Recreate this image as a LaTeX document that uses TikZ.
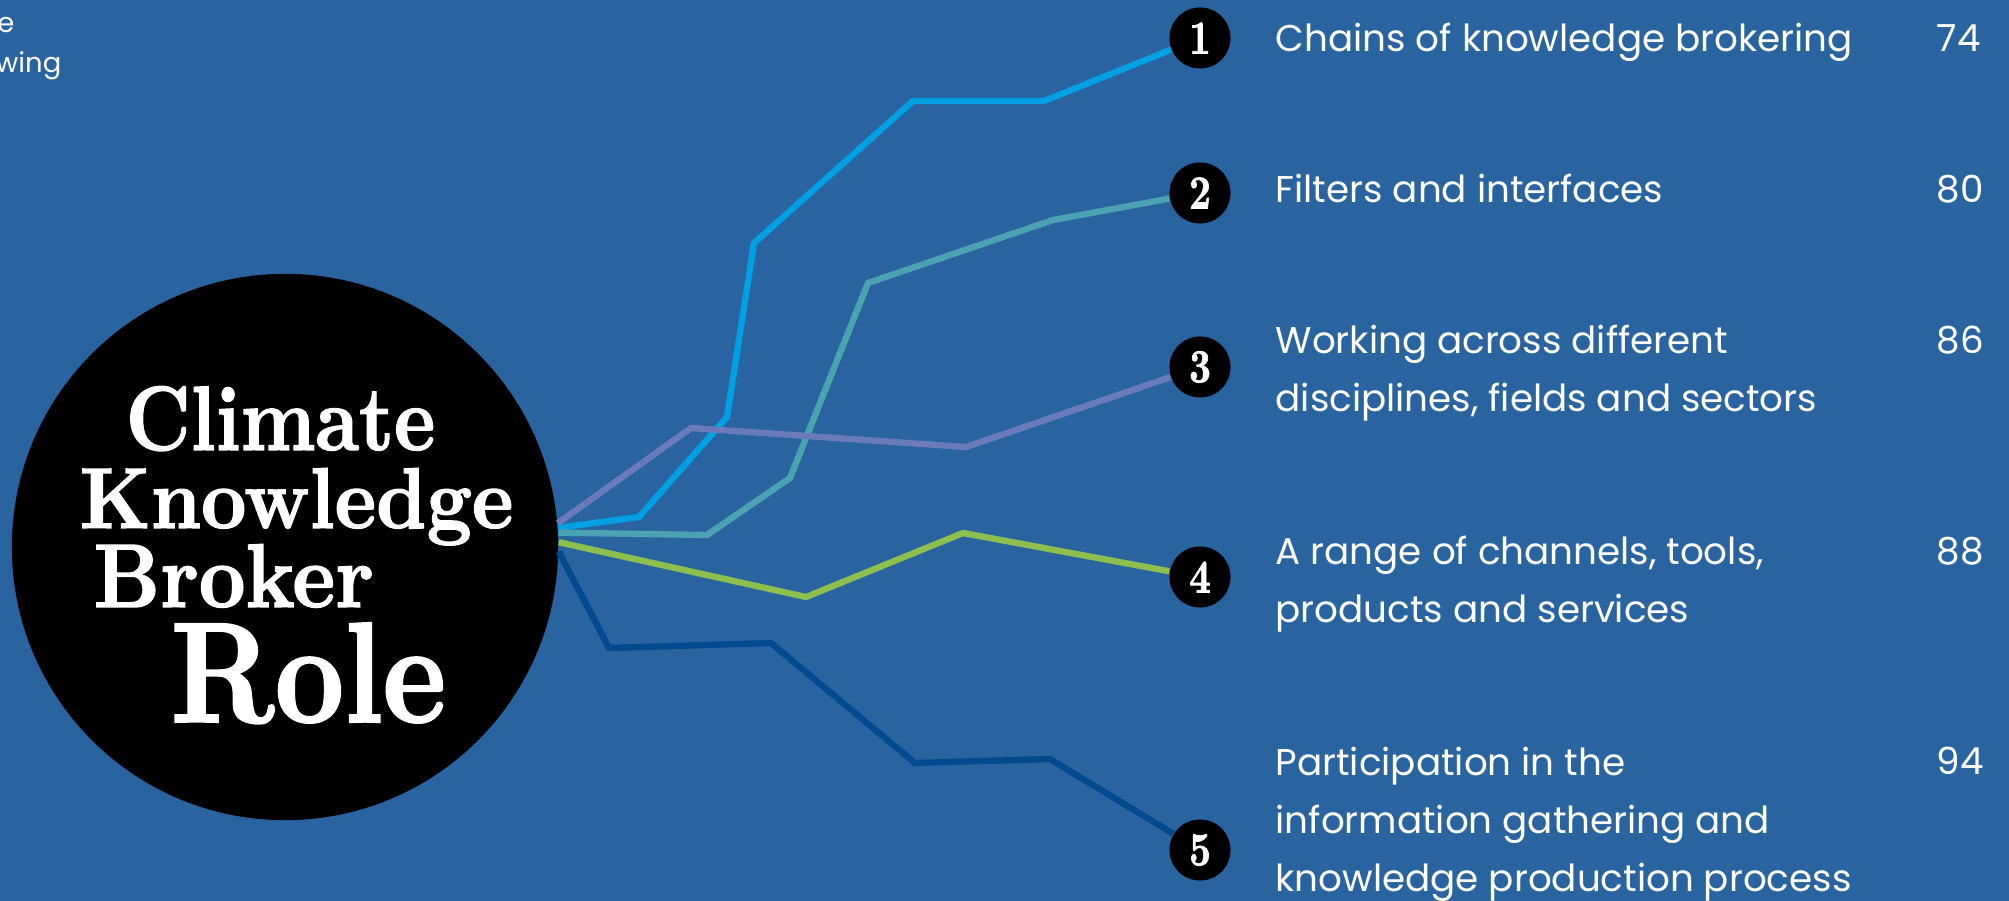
\documentclass[tikz,border=0pt]{standalone}
\usepackage{fontspec}
\newfontfamily\labelfont{Poppins}
\newfontfamily\displayfont{lmroman10-bold}[Extension=.otf, FakeBold=1.6]
\definecolor{PageBlue}{RGB}{41,100,160}
\definecolor{SkyBlue}{RGB}{0,160,227}
\definecolor{Teal}{RGB}{74,163,178}
\definecolor{Lavender}{RGB}{107,122,187}
\definecolor{LeafGreen}{RGB}{141,190,78}
\definecolor{DeepBlue}{RGB}{0,74,143}

\begin{document}
\begin{tikzpicture}[
            x=0.01cm, y=-0.01cm,
            title/.style={anchor=base west, text=white, inner sep=0pt, text depth=0pt},
            num/.style={circle, fill=black, minimum size=0.61cm, inner sep=0pt, text=white,
                        font=\displayfont\fontsize{13.5}{13.5}\selectfont},
            entry/.style={anchor=base west, text=white, inner sep=0pt, align=left,
                          font=\labelfont\fontsize{10.6}{16.5}\selectfont},
            small/.style={anchor=base east, text=white, inner sep=0pt,
                          font=\labelfont\fontsize{7.8}{11}\selectfont},
            link/.style={line width=1.8pt, line join=miter}
        ]
            \useasboundingbox (0,0) rectangle (2009,901);
            \fill[PageBlue] (0,0) rectangle (2009,901);

            % cut-off text at the left edge
            \node[small] (frag1) at (15,33) {e};
            \node[small] (frag2) at (62,73) {wing};

            % the big circle
            \node[circle, fill=black, minimum size=5.46cm, inner sep=0pt] (broker) at (285,547) {};
            \node[title, font=\displayfont\fontsize{26}{26}\selectfont] (climate) at (125,450) {\scalebox{0.855}[1]{Climate}};
            \node[title, font=\displayfont\fontsize{24.5}{24.5}\selectfont] (knowledge) at (79,528) {\scalebox{0.915}[1]{Knowledge}};
            \node[title, font=\displayfont\fontsize{25.7}{25.7}\selectfont] (brokerword) at (93,607) {\scalebox{0.9}[1]{Broker}};
            \node[title, font=\displayfont\fontsize{40.6}{40.6}\selectfont] (role) at (170,722) {\scalebox{0.845}[1]{Role}};

            % numbered stops
            \node[num] (n1) at (1200,38) {\scalebox{0.8}[1]{1}};
            \node[num] (n2) at (1200,193) {\scalebox{0.8}[1]{2}};
            \node[num] (n3) at (1200,367) {\scalebox{0.8}[1]{3}};
            \node[num] (n4) at (1200,577) {\scalebox{0.8}[1]{4}};
            \node[num] (n5) at (1200,850) {\scalebox{0.8}[1]{5}};

            % multi-line texts sit on their last baseline
            \node[entry] (t1) at (1275,52) {Chains of knowledge brokering};
            \node[entry] (t2) at (1275,203) {Filters and interfaces};
            \node[entry] (t3) at (1275,412) {Working across different\\disciplines, fields and sectors};
            \node[entry] (t4) at (1275,623) {A range of channels, tools,\\products and services};
            \node[entry] (t5) at (1275,892) {Participation in the\\information gathering and\\knowledge production process};

            \node[entry] (p1) at (1936,52) {74};
            \node[entry] (p2) at (1936,203) {80};
            \node[entry] (p3) at (1936,354) {86};
            \node[entry] (p4) at (1936,565) {88};
            \node[entry] (p5) at (1936,775) {94};

            % paths out of the circle
            \draw[link, SkyBlue] (broker.4) -- (639,517) -- (727,417) -- (754,243) -- (913,101) -- (1044,101) -- (n1);
            \draw[link, Teal] (broker.3) -- (707,535) -- (790,478) -- (868,283) -- (1053,220) -- (n2);
            \draw[link, Lavender] (broker.5) -- (691,428) -- (966,447) -- (n3);
            \draw[link, LeafGreen] (broker.1) -- (806,597) -- (963,533) -- (n4);
            \draw[link, DeepBlue] (broker.-1) -- (609,648) -- (771,643) -- (915,763) -- (1050,759) -- (n5);
        \end{tikzpicture}
\end{document}
